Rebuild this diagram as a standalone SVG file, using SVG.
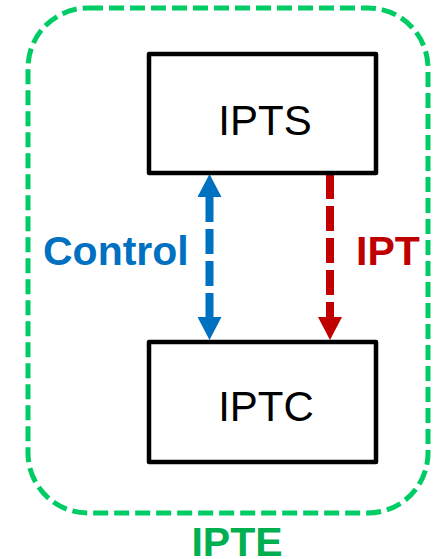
<svg xmlns="http://www.w3.org/2000/svg" width="436" height="559" viewBox="0 0 436 559">
<defs>
<style>
.box{fill:#fff;stroke:#000;stroke-width:4.5;stroke-linejoin:round}
.lbl{font-family:"Liberation Sans",Arial,sans-serif;font-size:42px;fill:#000;text-anchor:middle}
.bold{font-family:"Liberation Sans",Arial,sans-serif;font-weight:bold;font-size:41px}
.ctl{stroke:#0070C0;stroke-width:8;stroke-dasharray:25 7;fill:none}
.ipt{stroke:#C00000;stroke-width:8;stroke-dasharray:25 7;fill:none}
</style>
<marker id="ahBlue" markerUnits="userSpaceOnUse" markerWidth="24" markerHeight="24" refX="0" refY="12" orient="auto-start-reverse" viewBox="0 0 24 24">
<path d="M0,0 L23,12 L0,24 z" fill="#0070C0"/>
</marker>
<marker id="ahRed" markerUnits="userSpaceOnUse" markerWidth="24" markerHeight="24" refX="0" refY="12" orient="auto" viewBox="0 0 24 24">
<path d="M0,0 L23,12 L0,24 z" fill="#C00000"/>
</marker>
</defs>
<g id="IPTE">
<rect x="28" y="8" width="400" height="505" rx="60" ry="60" fill="none" stroke="#00CC66" stroke-width="5" stroke-dasharray="15 6"/>
<text x="237" y="556" text-anchor="middle" class="bold" fill="#00B050" font-size="40">IPTE</text>
</g>
<g id="connectors">
<line class="ctl" x1="209.5" y1="197" x2="209.5" y2="317" marker-start="url(#ahBlue)" marker-end="url(#ahBlue)"/>
<text x="43" y="265" class="bold" fill="#0070C0">Control</text>
<line class="ipt" x1="330" y1="174" x2="330" y2="317" marker-end="url(#ahRed)"/>
<text x="356" y="265" class="bold" fill="#C00000">IPT</text>
</g>
<g id="IPTS">
<rect class="box" x="149" y="54" width="227" height="119"/>
<text class="lbl" x="265" y="135">IPTS</text>
</g>
<g id="IPTC">
<rect class="box" x="149" y="342" width="227" height="120"/>
<text class="lbl" x="266" y="421">IPTC</text>
</g>
</svg>
